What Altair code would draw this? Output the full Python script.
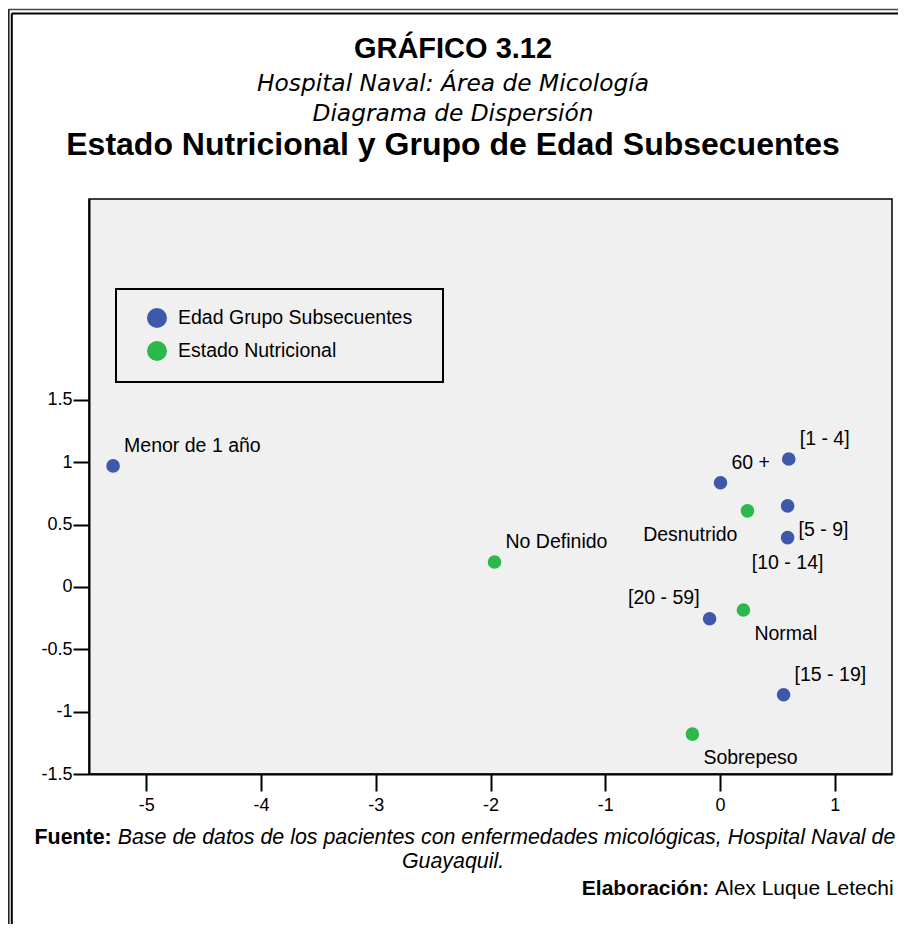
import altair as alt
import pandas as pd

# ---------------- data ----------------
labels = ["Menor de 1 año", "[1 - 4]", "[5 - 9]", "[10 - 14]", "[15 - 19]", "[20 - 59]", "60 +",
          "Desnutrido", "No Definido", "Normal", "Sobrepeso"]
dim1 = [-5.29, 0.60, 0.59, 0.59, 0.555, -0.09, 0.005, 0.24, -1.965, 0.205, -0.24]
dim2 = [0.97, 1.025, 0.65, 0.395, -0.865, -0.255, 0.835, 0.61, 0.20, -0.185, -1.18]
groups = ["Edad Grupo Subsecuentes", "Edad Grupo Subsecuentes", "Edad Grupo Subsecuentes",
          "Edad Grupo Subsecuentes", "Edad Grupo Subsecuentes", "Edad Grupo Subsecuentes",
          "Edad Grupo Subsecuentes", "Estado Nutricional", "Estado Nutricional",
          "Estado Nutricional", "Estado Nutricional"]
group_names = ["Edad Grupo Subsecuentes", "Estado Nutricional"]
x_ticks = [-5, -4, -3, -2, -1, 0, 1]
y_ticks = [-1.5, -1, -0.5, 0, 0.5, 1, 1.5]

title_main = "GRÁFICO 3.12"
title_sub1 = "Hospital Naval: Área de Micología"
title_sub2 = "Diagrama de Dispersión"
title_big = "Estado Nutricional y Grupo de Edad Subsecuentes"
src_bold = "Fuente:"
src_text = "Base de datos de los pacientes con enfermedades micológicas, Hospital Naval de"
src_text2 = "Guayaquil."
elab_bold = "Elaboración:"
elab_text = "Alex Luque Letechi"

df = pd.DataFrame({"label": labels, "dim1": dim1, "dim2": dim2, "group": groups})
one = pd.DataFrame({"k": [0]})

BLUE = "#3F58AC"
GREEN = "#2DB84B"
SANS = "Liberation Sans"

W, H = 803, 575

xs = alt.Scale(domain=[-5.5, 1.5], nice=False, zero=False)
ys = alt.Scale(domain=[-1.5, 3.11], nice=False, zero=False)

xaxis = alt.Axis(values=x_ticks, labelExpr="toString(datum.value)", title=None, grid=False,
                 tickSize=17, tickWidth=2, tickColor="black", domainColor="black", domainWidth=2,
                 labelFont=SANS, labelFontSize=18, labelColor="black", labelPadding=5)
yaxis = alt.Axis(values=y_ticks, labelExpr="toString(datum.value)", title=None, grid=False,
                 tickSize=16, tickWidth=2, tickColor="black", domainColor="black", domainWidth=2,
                 labelFont=SANS, labelFontSize=18, labelColor="black", labelPadding=1)

base = alt.Chart(df)

points = base.mark_circle(size=185, opacity=1).encode(
    x=alt.X("dim1:Q", scale=xs, axis=xaxis),
    y=alt.Y("dim2:Q", scale=ys, axis=yaxis),
    color=alt.Color("group:N", scale=alt.Scale(domain=group_names, range=[BLUE, GREEN]),
                    legend=alt.Legend(title=None, orient="none", legendX=27, legendY=90,
                                      padding=19,
                                      symbolType="circle", symbolSize=400, symbolStrokeWidth=0,
                                      symbolOffset=12, labelOffset=11, rowPadding=13,
                                      labelFont=SANS, labelFontSize=19.5, labelColor="black",
                                      labelLimit=400)),
)

# legend frame (decoration)
legend_box = alt.Chart(one).mark_rect(fill="#F0F0F0", stroke="black", strokeWidth=2).encode(
    x=alt.value(27), x2=alt.value(354), y=alt.value(90), y2=alt.value(183))

placements = [
    (["Menor de 1 año", "[1 - 4]", "60 +", "No Definido", "[15 - 19]"], "left", 11, -20),
    (["[5 - 9]", "Normal", "Sobrepeso"], "left", 11, 24),
    (["[20 - 59]"], "right", -10, -21),
    (["Desnutrido"], "right", -10, 24),
    (["[10 - 14]"], "center", 0, 25),
]
label_layers = []
for names, al, ddx, ddy in placements:
    label_layers.append(
        base.transform_filter(alt.FieldOneOfPredicate(field="label", oneOf=names))
        .mark_text(align=al, baseline="middle", dx=ddx, dy=ddy, font=SANS, fontSize=19.5, color="black")
        .encode(x=alt.X("dim1:Q", scale=xs), y=alt.Y("dim2:Q", scale=ys), text="label:N")
    )


def txt(text, x, y, size, align="center", weight="normal", style="normal", font=SANS):
    return alt.Chart(one).mark_text(align=align, baseline="middle", fontSize=size, fontWeight=weight,
                                    fontStyle=style, font=font, color="black").encode(
        x=alt.value(x), y=alt.value(y), text=alt.value(text))


def rule(x, y, x2, y2, w, c="black"):
    return alt.Chart(one).mark_rule(strokeWidth=w, color=c).encode(
        x=alt.value(x), y=alt.value(y), x2=alt.value(x2), y2=alt.value(y2))


texts = [
    txt(title_main, 364, -150, 29, weight="bold"),
    txt(title_sub1, 364, -115, 23.3, style="italic", font="DejaVu Sans"),
    txt(title_sub2, 364, -85, 23.3, style="italic", font="DejaVu Sans"),
    txt(title_big, 364, -54, 32, weight="bold"),
    txt(src_bold, -54.5, 639, 21.4, align="left", weight="bold"),
    txt(src_text, 28.7, 639, 21.4, align="left", style="italic"),
    txt(src_text2, 364, 663, 21.4, style="italic"),
    txt(elab_bold, 620, 690, 21, align="right", weight="bold"),
    txt(elab_text, 626, 690, 21, align="left"),
]

frame = [
    rule(-80.2, -190, -80.2, 730, 1.6, "#222222"),
    rule(-80.2, -189.5, 820, -189.5, 1.5, "#444444"),
    rule(-77.2, -185.5, -77.2, 730, 2),
    rule(-77.2, -185.5, 820, -185.5, 2),
]

chart = alt.layer(*frame, legend_box, points, *label_layers, *texts).properties(
    width=W, height=H,
    padding={"left": 81, "top": 191, "right": 6, "bottom": 150},
    autosize=alt.AutoSizeParams(type="none"),
    background="white",
).configure_view(fill="#F0F0F0", stroke="black", strokeWidth=1.5)

chart.save("out.html", embed_options={"renderer": "svg", "actions": False})
